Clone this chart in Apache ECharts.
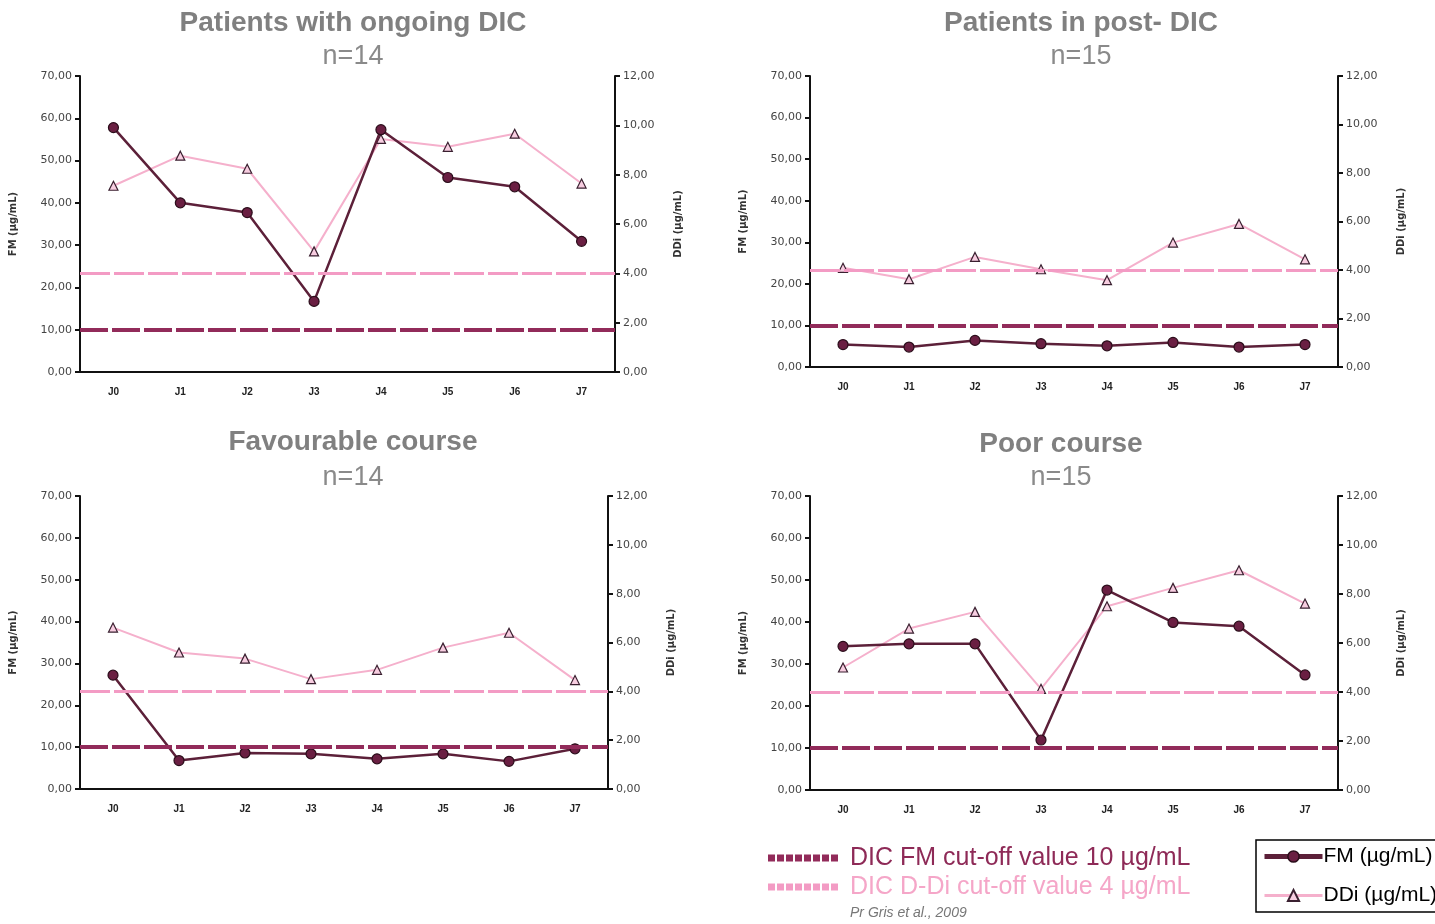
<!DOCTYPE html>
<html>
<head>
<meta charset="utf-8">
<title>FM and DDi kinetics</title>
<script src="https://cdn.jsdelivr.net/npm/echarts@6/dist/echarts.min.js"></script>
<style>
  html, body { margin: 0; padding: 0; background: #fff; }
  #chart { width: 1435px; height: 924px; }
</style>
</head>
<body>
<div id="chart"></div>
<script>
// --- data ---
const categories = ['J0', 'J1', 'J2', 'J3', 'J4', 'J5', 'J6', 'J7'];

const fmOngoing = [57.8, 40.0, 37.7, 16.7, 57.3, 46.0, 43.8, 30.9];
const ddiOngoing = [7.55, 8.77, 8.24, 4.89, 9.45, 9.13, 9.66, 7.64];

const fmPost = [5.4, 4.8, 6.4, 5.6, 5.1, 5.9, 4.8, 5.4];
const ddiPost = [4.09, 3.62, 4.54, 4.03, 3.58, 5.13, 5.9, 4.44];

const fmFavourable = [27.2, 6.8, 8.6, 8.4, 7.2, 8.4, 6.6, 9.6];
const ddiFavourable = [6.61, 5.59, 5.34, 4.5, 4.88, 5.79, 6.4, 4.46];

const fmPoor = [34.2, 34.8, 34.8, 11.9, 47.6, 39.9, 39.0, 27.4];
const ddiPoor = [5.0, 6.59, 7.27, 4.13, 7.5, 8.25, 8.97, 7.61];

const fmCutoff = 10;
const ddiCutoff = 4;

const panelTitles = ['Patients with ongoing DIC', 'Patients in post- DIC', 'Favourable course', 'Poor course'];
const panelCounts = ['n=14', 'n=15', 'n=14', 'n=15'];

const fmName = 'FM (µg/mL)';
const ddiName = 'DDi (µg/mL)';

// --- layout ---
const grids = [
  { left: 80, top: 76, width: 535, height: 296 },
  { left: 810, top: 76, width: 528, height: 291 },
  { left: 80, top: 496, width: 528, height: 293 },
  { left: 810, top: 496, width: 528, height: 294 }
];
const titlePos = [[353, 23, 57], [1081, 23, 57], [353, 442, 478], [1061, 444, 478]];
const panelData = [
  [fmOngoing, ddiOngoing],
  [fmPost, ddiPost],
  [fmFavourable, ddiFavourable],
  [fmPoor, ddiPoor]
];

const FM_LINE = '#5c2039';
const FM_DOT = '#6a1f42';
const DDI_LINE = '#f5b0cc';
const DDI_TRI = '#f7cde0';
const FM_CUT = '#922b5a';
const DDI_CUT = '#f39bc4';
const AXIS = '#111';

const fmt = v => v.toFixed(2).replace('.', ',');

const axisCommon = {
  axisLine: { show: true, lineStyle: { color: AXIS, width: 2 } },
  axisTick: { show: true, length: 5, lineStyle: { color: AXIS, width: 2 } },
  splitLine: { show: false },
  axisLabel: { color: '#444', fontSize: 11, fontFamily: 'DejaVu Sans', formatter: fmt },
  nameTextStyle: { color: '#333', fontSize: 10, fontWeight: 'bold', fontFamily: 'DejaVu Sans' },
  nameLocation: 'middle',
  nameRotate: 90
};

const xAxis = [], yAxis = [], series = [], graphic = [];

grids.forEach((g, i) => {
  xAxis.push({
    type: 'category',
    gridIndex: i,
    data: categories,
    boundaryGap: true,
    axisLine: { lineStyle: { color: AXIS, width: 2 } },
    axisTick: { length: 5, lineStyle: { color: AXIS, width: 2 } },
    axisLabel: { color: '#222', fontSize: 10, fontWeight: 'bold', fontFamily: 'Arial, Liberation Sans', margin: 15 }
  });
  yAxis.push(Object.assign({}, axisCommon, {
    type: 'value', gridIndex: i, position: 'left', min: 0, max: 70, interval: 10,
    name: fmName, nameGap: 62
  }));
  yAxis.push(Object.assign({}, axisCommon, {
    type: 'value', gridIndex: i, position: 'right', min: 0, max: 12, interval: 2,
    name: ddiName, nameGap: 58,
    axisLabel: Object.assign({}, axisCommon.axisLabel, { margin: 8 })
  }));

  const [fm, ddi] = panelData[i];
  series.push({
    name: ddiName,
    type: 'line',
    xAxisIndex: i,
    yAxisIndex: 2 * i + 1,
    data: ddi,
    symbol: 'triangle',
    symbolSize: 9,
    lineStyle: { color: DDI_LINE, width: 2 },
    itemStyle: { color: DDI_TRI, borderColor: '#3a2030', borderWidth: 1.2 },
    z: 3,
    markLine: {
      silent: true,
      symbol: 'none',
      label: { show: false },
      lineStyle: { color: DDI_CUT, width: 3, type: [30, 4], opacity: 1 },
      data: [{ yAxis: ddiCutoff }]
    }
  });
  series.push({
    name: fmName,
    type: 'line',
    xAxisIndex: i,
    yAxisIndex: 2 * i,
    data: fm,
    symbol: 'circle',
    symbolSize: 10,
    lineStyle: { color: FM_LINE, width: 2.5 },
    itemStyle: { color: FM_DOT, borderColor: '#2a0d1a', borderWidth: 1.2 },
    z: 4,
    markLine: {
      silent: true,
      symbol: 'none',
      label: { show: false },
      lineStyle: { color: FM_CUT, width: 4, type: [28, 4], opacity: 1 },
      data: [{ yAxis: fmCutoff }]
    }
  });

  const [tx, ty, ny] = titlePos[i];
  graphic.push({
    type: 'text', x: tx, y: ty,
    style: { text: panelTitles[i], fill: '#808080', font: 'bold 28px Arial, Liberation Sans', align: 'center', verticalAlign: 'middle' }
  });
  graphic.push({
    type: 'text', x: tx, y: ny,
    style: { text: panelCounts[i], fill: '#8a8a8a', font: '27px Arial, Liberation Sans', align: 'center', verticalAlign: 'middle' }
  });
});

// cut-off legend (left part of the footer)
graphic.push(
  { type: 'line', shape: { x1: 768, y1: 858, x2: 840, y2: 858 }, style: { stroke: FM_CUT, lineWidth: 7, lineDash: [7, 2] } },
  { type: 'text', x: 850, y: 858, style: { text: 'DIC FM cut-off value 10 µg/mL', fill: '#8e2a57', font: '25px Arial, Liberation Sans', verticalAlign: 'middle' } },
  { type: 'line', shape: { x1: 768, y1: 887, x2: 840, y2: 887 }, style: { stroke: DDI_CUT, lineWidth: 7, lineDash: [7, 2] } },
  { type: 'text', x: 850, y: 887, style: { text: 'DIC D-Di cut-off value 4 µg/mL', fill: '#f5a6c8', font: '25px Arial, Liberation Sans', verticalAlign: 'middle' } },
  { type: 'text', x: 850, y: 913, style: { text: 'Pr Gris et al., 2009', fill: '#777', font: 'italic 14px Arial, Liberation Sans', verticalAlign: 'middle' } }
);

const chart = echarts.init(document.getElementById('chart'));
chart.setOption({
  backgroundColor: '#fff',
  animation: false,
  grid: grids,
  xAxis,
  yAxis,
  series,
  graphic,
  legend: {
    data: [
      { name: fmName, lineStyle: { width: 5 }, itemStyle: { borderWidth: 1.5 } },
      { name: ddiName, lineStyle: { width: 3 } }
    ],
    orient: 'vertical',
    left: 1256,
    top: 840,
    padding: [6, 6, 6, 6],
    itemWidth: 58,
    itemHeight: 14,
    itemGap: 18,
    borderColor: '#000',
    borderWidth: 1.5,
    selectedMode: false,
    textStyle: { color: '#000', fontSize: 21, fontFamily: 'Arial, Liberation Sans', padding: [0, 0, 0, -4] }
  }
});
</script>
</body>
</html>
